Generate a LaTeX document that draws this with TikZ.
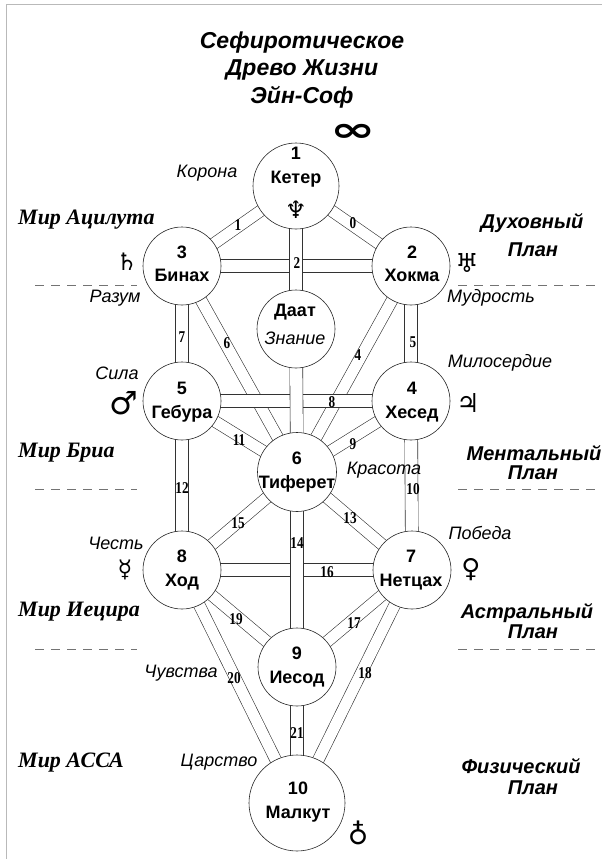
\documentclass[tikz,border=0pt]{standalone}
\usepackage{fontspec}
\setmainfont{Liberation Sans}
\newfontfamily\mirfont{Liberation Serif}
\newfontfamily\numfont[FakeStretch=0.8]{Liberation Serif}
\newfontfamily\symfont{DejaVu Sans}
\pgfdeclarelayer{bg}
\pgfsetlayers{bg,main}
\tikzset{
  sef/.style={circle, draw=black!85, line width=0.6pt, fill=white, inner sep=0pt, outer sep=0pt},
  nt/.style={font=\bfseries\fontsize{18}{23.5}\selectfont, align=center, inner sep=0pt},
  chan/.style={draw=black!80, line width=0.6pt, double=white, double distance=12.3pt, shorten <=-3pt, shorten >=-3pt},
  dchan/.style={chan, double distance=11pt},
  pnum/.style={font=\numfont\bfseries\fontsize{16.5}{16.5}\selectfont, inner sep=0pt},
  itl/.style={font=\itshape\fontsize{18}{18}\selectfont, inner sep=0pt},
  plane/.style={font=\bfseries\itshape\fontsize{20}{20}\selectfont, inner sep=0pt},
  mir/.style={font=\mirfont\bfseries\itshape\fontsize{22}{22}\selectfont, anchor=west, inner sep=0pt},
  sym/.style={font=\symfont\fontsize{24}{24}\selectfont, inner sep=0pt},
  sepline/.style={draw=black!55, line width=1pt, dash pattern=on 9pt off 7pt},
}
\begin{document}
\begin{tikzpicture}[x=1pt,y=-1pt]
\useasboundingbox (0,0) rectangle (602,859);
\draw[gray!55, line width=1.5pt] (6.5,859) -- (6.5,4.5) -- (602,4.5);

% title
\node[font=\bfseries\itshape\fontsize{23}{27.5}\selectfont, align=center, inner sep=0pt] (title) at (302,70)
  {Сефиротическое\\Древо Жизни\\Эйн-Соф};
\node[font=\symfont\bfseries\fontsize{34}{34}\selectfont, inner sep=0pt] (inf) at (353,133) {\scalebox{1.6}[1]{∞}};

% sefirot circles
\node[sef, minimum size=86pt] (keter) at (296,186) {};
\node[sef, minimum size=78pt] (binah) at (182,266) {};
\node[sef, minimum size=78pt] (hokma) at (411,266) {};
\node[sef, minimum size=78pt] (daat) at (296,329) {};
\node[sef, minimum size=78pt] (geburah) at (182,401) {};
\node[sef, minimum size=78pt] (chesed) at (411,401) {};
\node[sef, minimum size=79pt] (tiferet) at (297,472) {};
\node[sef, minimum size=78pt] (hod) at (182,570) {};
\node[sef, minimum size=78pt] (netzach) at (412,570) {};
\node[sef, minimum size=78pt] (yesod) at (297,667) {};
\node[sef, minimum size=96pt] (malkut) at (297,803) {};

% channels
\begin{pgfonlayer}{bg}
  % diagonals
  \draw[dchan] (keter) -- (binah);
  \draw[dchan] (keter) -- (hokma);
  \draw[dchan] (binah) -- (tiferet);
  \draw[dchan] (hokma) -- (tiferet);
  \draw[dchan] (geburah) -- (tiferet);
  \draw[dchan] (chesed) -- (tiferet);
  \draw[dchan] (tiferet) -- (hod);
  \draw[dchan] (tiferet) -- (netzach);
  \draw[dchan] (hod) -- (yesod);
  \draw[dchan] (netzach) -- (yesod);
  \draw[dchan] (hod) -- (malkut);
  \draw[dchan] (netzach) -- (malkut);
  % horizontals
  \draw[chan] (binah) -- (hokma);
  \draw[chan] (geburah) -- (chesed);
  \draw[chan] (hod) -- (netzach);
  % verticals
  \draw[chan] (binah) -- (geburah);
  \draw[chan] (geburah) -- (hod);
  \draw[chan] (hokma) -- (chesed);
  \draw[chan] (chesed) -- (netzach);
  \draw[chan] (keter) -- (daat);
  \draw[chan] (daat) -- (tiferet);
  \draw[chan] (tiferet) -- (yesod);
  \draw[chan] (yesod) -- (malkut);
\end{pgfonlayer}

% circle texts
\node[nt] (tketer) at (296,167) {1\\Кетер};
\node[sym] (sketer) at (296,210) {♆};
\node[nt] (tbinah) at (182,264) {3\\Бинах};
\node[nt] (thokma) at (412,264) {2\\Хокма};
\node[align=center, inner sep=0pt, font=\fontsize{18}{28}\selectfont] (tdaat) at (295,324) {\bfseries Даат\\\itshape Знание};
\node[nt] (tgeburah) at (182,402) {5\\Гебура};
\node[nt] (tchesed) at (412,402) {4\\Хесед};
\node[nt] (ttiferet) at (297,472) {6\\Тиферет};
\node[nt] (thod) at (182,570) {8\\Ход};
\node[nt] (tnetzach) at (411,570) {7\\Нетцах};
\node[nt] (tyesod) at (297,667) {9\\Иесод};
\node[nt] (tmalkut) at (298,802) {10\\Малкут};

% path numbers
\node[pnum] (p0) at (353,223) {0};
\node[pnum] (p1) at (238,225) {1};
\node[pnum] (p2) at (297,263) {2};
\node[pnum] (p4) at (358,355) {4};
\node[pnum] (p5) at (413,342) {5};
\node[pnum] (p6) at (227,343) {6};
\node[pnum] (p7) at (182,337) {7};
\node[pnum] (p8) at (332,402) {8};
\node[pnum] (p9) at (353,444) {9};
\node[pnum] (p10) at (413,489) {10};
\node[pnum] (p11) at (239,440) {11};
\node[pnum] (p12) at (182,488) {12};
\node[pnum] (p13) at (350,518) {13};
\node[pnum] (p14) at (297,543) {14};
\node[pnum] (p15) at (238,523) {15};
\node[pnum] (p16) at (327,572) {16};
\node[pnum] (p17) at (354,623) {17};
\node[pnum] (p18) at (365,673) {18};
\node[pnum] (p19) at (236,619) {19};
\node[pnum] (p20) at (234,678) {20};
\node[pnum] (p21) at (297,733) {21};

% italic attributes
\node[itl] (korona) at (207,173) {Корона};
\node[itl] (razum) at (115,298) {Разум};
\node[itl] (mudrost) at (491,298) {Мудрость};
\node[itl] (sila) at (117,373) {Сила};
\node[itl] (miloserdie) at (500,363) {Милосердие};
\node[itl] (krasota) at (384,470) {Красота};
\node[itl] (chest) at (116,543) {Честь};
\node[itl] (pobeda) at (480,533) {Победа};
\node[itl] (chuvstva) at (181,673) {Чувства};
\node[itl] (tsarstvo) at (219,762) {Царство};

% planet symbols
\node[sym] (saturn) at (127,262) {♄};
\node[sym, font=\symfont\fontsize{26}{26}\selectfont] (uranus) at (467,263) {♅};
\node[sym, font=\symfont\fontsize{32}{32}\selectfont] (mars) at (124,403) {♂};
\node[sym, font=\symfont\fontsize{26}{26}\selectfont] (jupiter) at (468,403) {♃};
\node[sym] (mercury) at (125,570) {☿};
\node[sym, font=\symfont\fontsize{26}{26}\selectfont] (venus) at (471,570) {♀};
\node[sym, font=\symfont\fontsize{28}{28}\selectfont] (earth) at (358,833) {♁};

% worlds
\node[mir] (w1) at (18,220) {Мир Ацилута};
\node[mir] (w2) at (18,453) {Мир Бриа};
\node[mir] (w3) at (18,612) {Мир Иецира};
\node[mir] (w4) at (18,763) {Мир АССА};

% planes
\node[plane] (pl1a) at (532,223) {Духовный};
\node[plane] (pl1b) at (533,250) {План};
\node[plane] (pl2a) at (534,453) {Ментальный};
\node[plane] (pl2b) at (533,473) {План};
\node[plane] (pl3a) at (527,613) {Астральный};
\node[plane] (pl3b) at (533,632) {План};
\node[plane] (pl4a) at (521,766) {Физический};
\node[plane] (pl4b) at (533,788) {План};

% separator lines
\coordinate (s1a) at (35,285); \coordinate (s1b) at (137,285);
\coordinate (s1c) at (458,285); \coordinate (s1d) at (602,285);
\coordinate (s2a) at (35,489); \coordinate (s2b) at (137,489);
\coordinate (s2c) at (458,489); \coordinate (s2d) at (602,489);
\coordinate (s3a) at (35,649); \coordinate (s3b) at (137,649);
\coordinate (s3c) at (458,649); \coordinate (s3d) at (602,649);
\draw[sepline] (s1a) -- (s1b); \draw[sepline] (s1c) -- (s1d);
\draw[sepline] (s2a) -- (s2b); \draw[sepline] (s2c) -- (s2d);
\draw[sepline] (s3a) -- (s3b); \draw[sepline] (s3c) -- (s3d);
\end{tikzpicture}
\end{document}
